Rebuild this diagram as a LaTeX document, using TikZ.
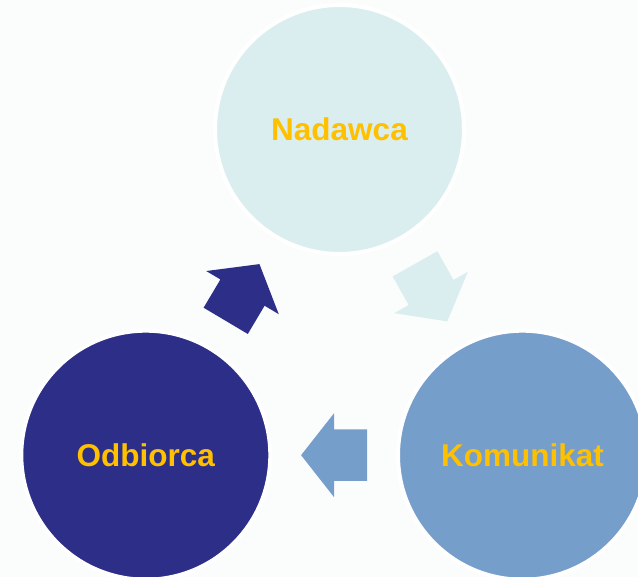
\documentclass[tikz,border=0pt]{standalone}
\usepackage{fontspec}
\setmainfont{Liberation Sans}
\usetikzlibrary{shapes.arrows}

\definecolor{nadcol}{RGB}{218,238,240}
\definecolor{komcol}{RGB}{118,158,203}
\definecolor{odbcol}{RGB}{45,46,135}
\definecolor{txtcol}{RGB}{255,192,0}
\definecolor{bgcol}{RGB}{251,252,252}

\begin{document}
\begin{tikzpicture}
[
	x=1pt,y=1pt,
	party/.style={circle,draw=white,line width=4pt,inner sep=0pt,minimum size=249pt,
		text=txtcol,font=\fontsize{31.5}{36}\selectfont\bfseries},
	flow/.style={single arrow,sloped,allow upside down,draw=none,anchor=tail,pos=0.412,
		inner xsep=0pt,inner ysep=25.5pt,
		minimum height=66pt,minimum width=84pt,
		single arrow head extend=16.5pt,single arrow tip angle=103.7}
]

	% background
	\clip (0,0) rectangle (638,577);
	\fill[bgcol] (0,0) rectangle (638,577);

	% circles
	\node[party,fill=nadcol] (nad) at (339.5,447.5) {Nadawca};
	\node[party,fill=komcol] (kom) at (522.5,121.8) {Komunikat};
	\node[party,fill=odbcol] (odb) at (145.8,121.8) {Odbiorca};

	% arrows
	\path (nad.center) -- node[flow,fill=nadcol] (nadkom) {} (kom.center);
	\path (kom.center) -- node[flow,fill=komcol] (komodb) {} (odb.center);
	\path (odb.center) -- node[flow,fill=odbcol] (odbnad) {} (nad.center);

\end{tikzpicture}
\end{document}
